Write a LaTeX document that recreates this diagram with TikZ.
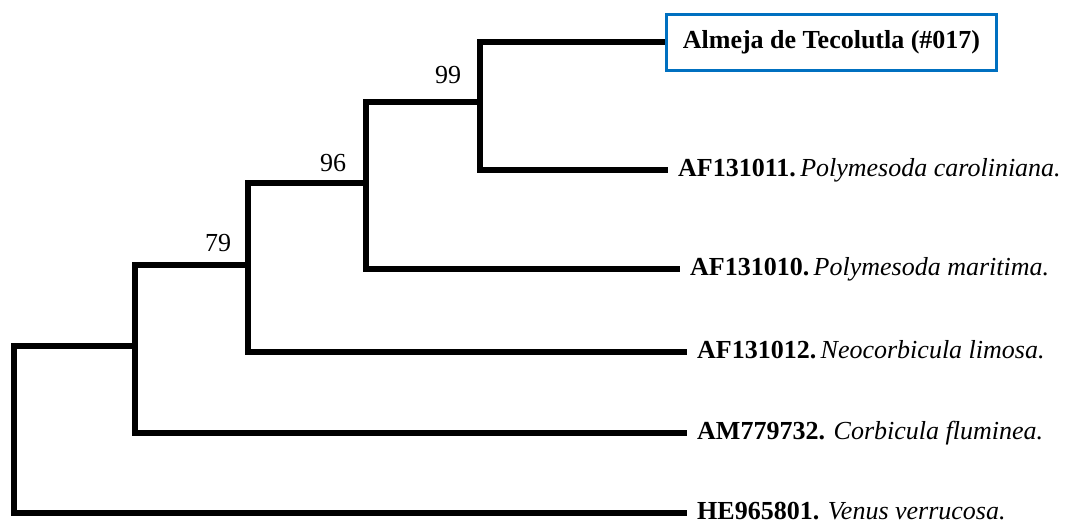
\documentclass[tikz,border=0pt]{standalone}
\usepackage{fontspec}
\setmainfont{Liberation Serif}
\definecolor{boxblue}{RGB}{0,112,192}

\begin{document}
\begin{tikzpicture}[x=1pt, y=-1pt,
  every node/.style={font=\fontsize{26}{30}\selectfont},
  branch/.style={line width=6pt, line join=miter},
  leaf/.style={anchor=west, inner xsep=10pt, inner ysep=0pt, text height=18pt, text depth=6pt},
  sample/.style={anchor=west, draw=boxblue, line width=3pt, minimum width=330pt, minimum height=56pt, inner sep=0pt}]
  \useasboundingbox (0,0) rectangle (1079,525);

  % Internal nodes
  \coordinate (j99) at (480,102);
  \coordinate (j96) at (366,183);
  \coordinate (j79) at (248,265);
  \coordinate (j0) at (135,346);
  \coordinate (root) at (14,430);

  % Taxa
  \node[sample] (almeja) at (665,42) {\textbf{Almeja de Tecolutla (\#017)}};
  \node[leaf] (caro) at (668,170) {\textbf{AF131011.}\,\textit{Polymesoda caroliniana.}};
  \node[leaf] (mari) at (680,269) {\textbf{AF131010.}\,\textit{Polymesoda maritima.}};
  \node[leaf] (limosa) at (687,352) {\textbf{AF131012.}\,\textit{Neocorbicula limosa.}};
  \node[leaf] (flum) at (687,433) {\textbf{AM779732.} \textit{Corbicula fluminea.}};
  \node[leaf] (venus) at (687,513) {\textbf{HE965801.} \textit{Venus verrucosa.}};

  % Branches
  \draw[branch] (almeja.west) -| (j99) |- (caro.west);
  \draw[branch] (j99) -| (j96) |- (mari.west);
  \draw[branch] (j96) -| (j79) |- (limosa.west);
  \draw[branch] (j79) -| (j0) |- (flum.west);
  \draw[branch] (j0) -| (root) |- (venus.west);

  % Bootstrap values
  \node (b99) at (448,75) {99};
  \node (b96) at (333,163) {96};
  \node (b79) at (218,243) {79};
\end{tikzpicture}
\end{document}
